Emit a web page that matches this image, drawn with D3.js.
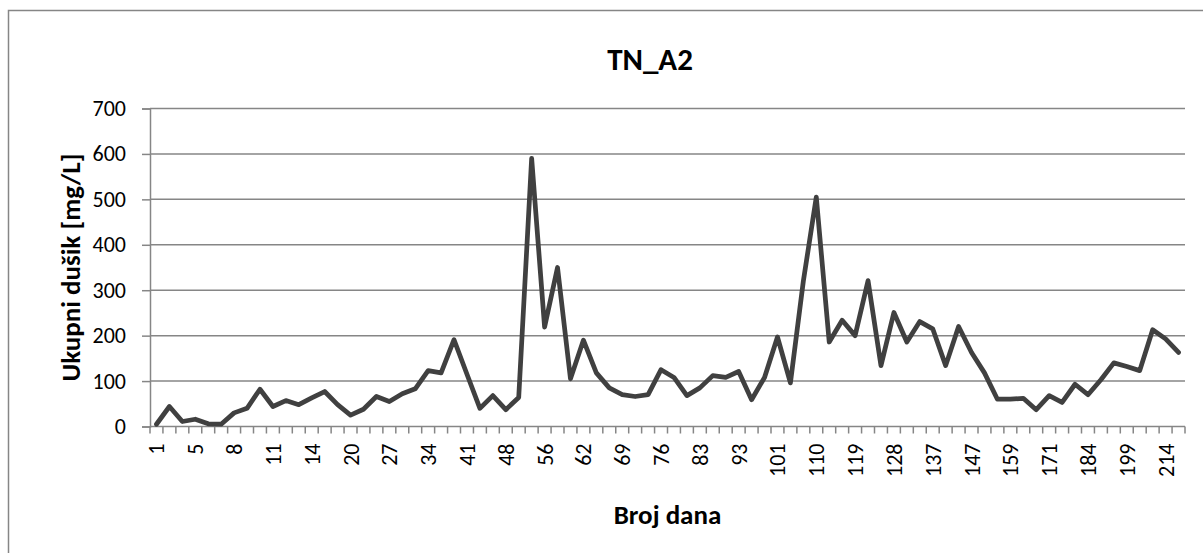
<!DOCTYPE html>
<html>
<head>
<meta charset="utf-8">
<script src="https://cdn.jsdelivr.net/npm/d3@7"></script>
<style>
  body { margin: 0; background: #fff; }
  text { font-family: Calibri, Carlito, Lato, sans-serif; fill: #000; }
</style>
</head>
<body>
<div id="chart"></div>
<script>
// day numbers (categories) - only every 3rd one is labelled on the axis
const days = [1, 3, 4, 5, 6, 7, 8, 9, 10, 11, 12, 13, 14, 16, 18, 20, 22, 25, 27, 29,
  32, 34, 36, 39, 41, 43, 46, 48, 50, 53, 56, 58, 60, 62, 64, 67, 69, 71, 74, 76,
  78, 81, 83, 86, 90, 93, 95, 98, 101, 104, 107, 110, 113, 116, 119, 122, 125, 128, 131, 134,
  137, 140, 144, 147, 151, 155, 159, 163, 167, 171, 175, 180, 184, 189, 194, 199, 204, 209, 214, 219];

// total nitrogen [mg/L]
const tnValues = [5, 44, 11, 16, 6, 5, 30, 40, 82, 44, 57, 48, 63, 77, 48, 25, 38, 66, 55, 72,
  83, 123, 118, 191, 115, 40, 68, 37, 64, 590, 219, 350, 105, 190, 118, 85, 70, 66, 70, 125,
  108, 68, 85, 112, 108, 121, 59, 108, 197, 96, 320, 505, 186, 234, 200, 321, 134, 251, 186, 231,
  215, 134, 220, 163, 118, 60, 60, 62, 37, 68, 53, 93, 70, 103, 140, 132, 123, 213, 193, 163];

const yTicks = [0, 100, 200, 300, 400, 500, 600, 700];

const chartTitle = "TN_A2";
const xTitle = "Broj dana";
const yTitle = "Ukupni dušik [mg/L]";

const W = 1203, H = 553;
const plot = { left: 150, right: 1185, top: 108.5, bottom: 426.5 };

const svg = d3.select("#chart")
    .append("svg")
    .attr("width", W)
    .attr("height", H);

svg.append("rect")
    .attr("width", W).attr("height", H)
    .attr("fill", "#fff");

// chart area border (right and bottom fall outside the picture)
svg.append("rect")
    .attr("x", 8.5).attr("y", 10.5)
    .attr("width", 1300).attr("height", 600)
    .attr("fill", "none")
    .attr("stroke", "#868686")
    .attr("stroke-width", 1.5);

const data = days.map((d, i) => ({ day: String(d), value: tnValues[i] }));

const xScale = d3.scaleBand()
    .domain(data.map(d => d.day))
    .range([plot.left, plot.right])
    .padding(0);

const yScale = d3.scaleLinear()
    .domain([0, 700])
    .range([plot.bottom, plot.top]);

// gridlines
svg.append("g")
    .selectAll("line")
    .data(yTicks.filter(t => t > 0))
    .join("line")
    .attr("x1", plot.left).attr("x2", plot.right)
    .attr("y1", d => yScale(d)).attr("y2", d => yScale(d))
    .attr("stroke", "#868686")
    .attr("stroke-width", 1.5);

// y axis
const yAxis = svg.append("g")
    .attr("transform", `translate(${plot.left},0)`)
    .call(d3.axisLeft(yScale).tickValues(yTicks).tickSize(8).tickPadding(16));
yAxis.select(".domain").attr("stroke", "#868686").attr("stroke-width", 1.5);
yAxis.selectAll(".tick line").attr("stroke", "#868686").attr("stroke-width", 1.5);
yAxis.selectAll(".tick text")
    .style("font-size", "22px")
    .attr("fill", "#000");

// x axis: tick marks between categories, labels on every 3rd category
const bw = xScale.bandwidth();
const xAxis = svg.append("g")
    .attr("transform", `translate(0,${plot.bottom})`);
xAxis.append("line")
    .attr("x1", plot.left).attr("x2", plot.right)
    .attr("stroke", "#868686")
    .attr("stroke-width", 1.5);
xAxis.selectAll(".tk")
    .data(data.map(d => d.day).concat(["end"]))
    .join("line")
    .attr("class", "tk")
    .attr("x1", (d, i) => plot.left + i * bw)
    .attr("x2", (d, i) => plot.left + i * bw)
    .attr("y1", 0).attr("y2", 7)
    .attr("stroke", "#868686")
    .attr("stroke-width", 1.5);
xAxis.selectAll(".lbl")
    .data(data.filter((d, i) => i % 3 === 0))
    .join("text")
    .attr("class", "lbl")
    .attr("transform", d => `translate(${xScale(d.day) + bw / 2 + 8},17) rotate(-90)`)
    .attr("text-anchor", "end")
    .style("font-size", "22px")
    .text(d => d.day);

// line
const line = d3.line()
    .x(d => xScale(d.day) + bw / 2)
    .y(d => yScale(d.value));

svg.append("path")
    .datum(data)
    .attr("fill", "none")
    .attr("stroke", "#404040")
    .attr("stroke-width", 4.75)
    .attr("stroke-linejoin", "round")
    .attr("stroke-linecap", "round")
    .attr("d", line);

// titles
svg.append("text")
    .attr("x", 650).attr("y", 70)
    .attr("text-anchor", "middle")
    .style("font-size", "31px")
    .style("font-weight", "bold")
    .text(chartTitle);

svg.append("text")
    .attr("x", (plot.left + plot.right) / 2).attr("y", 524)
    .attr("text-anchor", "middle")
    .style("font-size", "27px")
    .style("font-weight", "bold")
    .text(xTitle);

svg.append("text")
    .attr("transform", `translate(80,${(plot.top + plot.bottom) / 2}) rotate(-90)`)
    .attr("text-anchor", "middle")
    .style("font-size", "27px")
    .style("font-weight", "bold")
    .text(yTitle);
</script>
</body>
</html>
